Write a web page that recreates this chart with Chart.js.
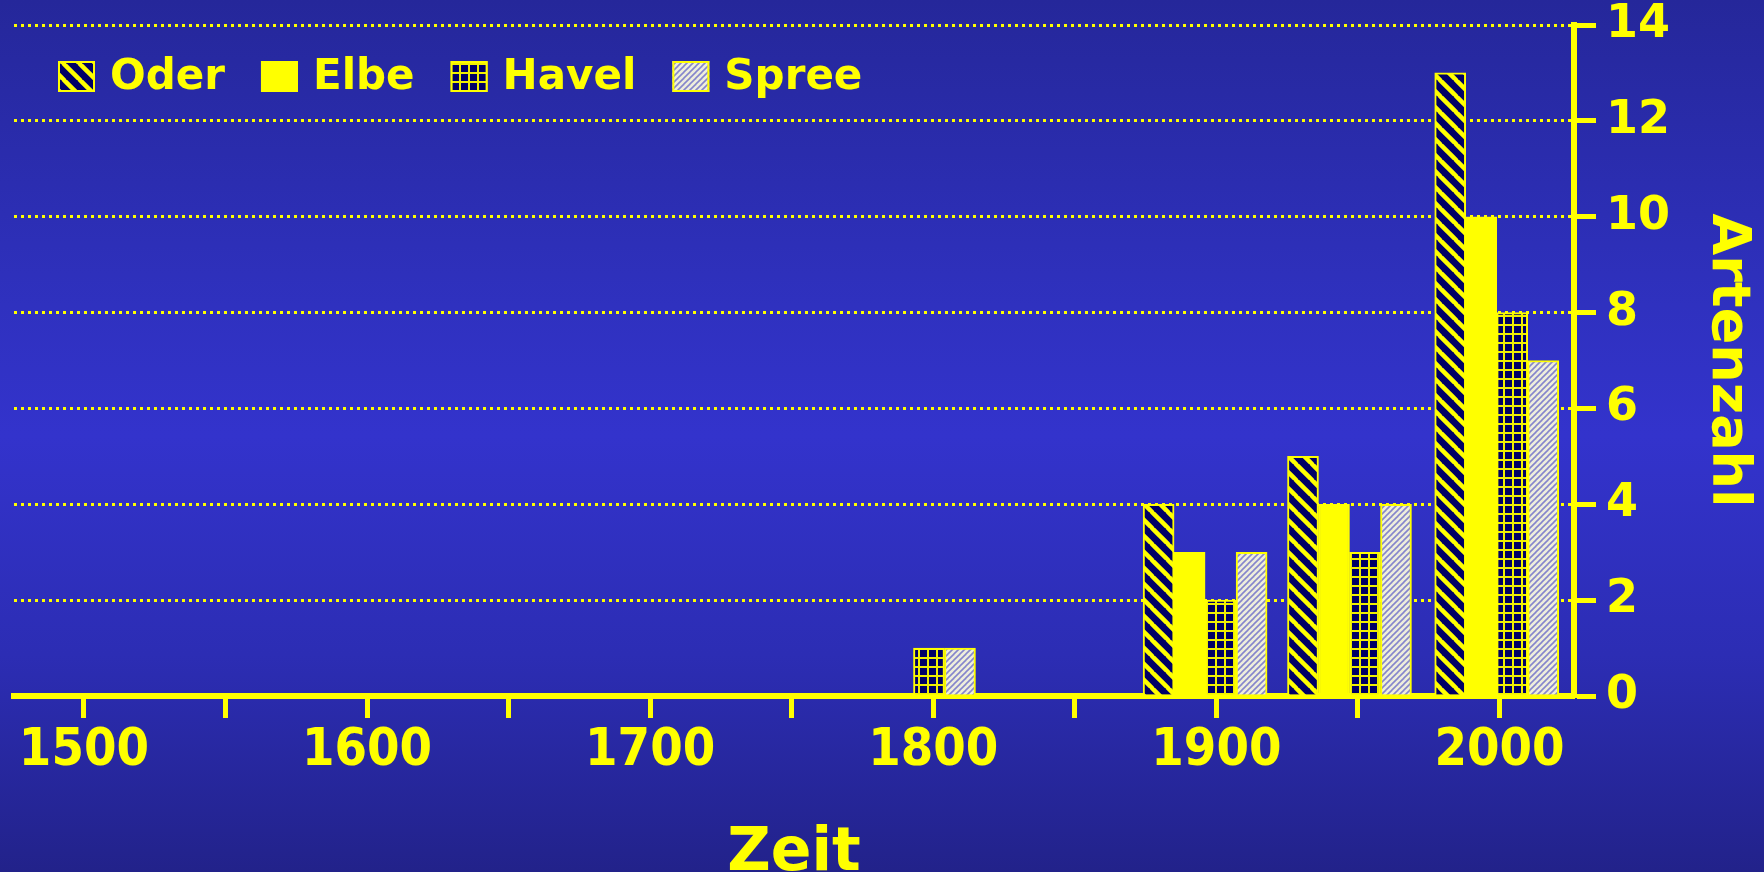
<!DOCTYPE html>
<html>
<head>
<meta charset="utf-8">
<script src="https://cdn.jsdelivr.net/npm/chart.js@4.4.1/dist/chart.umd.min.js"></script>
<style>
  html, body { margin: 0; padding: 0; }
  body {
    width: 1764px; height: 872px; overflow: hidden;
    background: linear-gradient(to bottom, #25279a 0%, #2f31bf 35%, #3333cc 50%, #2c2db4 75%, #22228a 100%);
  }
  #wrap { position: relative; width: 1764px; height: 872px; }
</style>
</head>
<body>
<div id="wrap"><canvas id="chart"></canvas></div>
<script>
// Zeitpunkte der Balkengruppen
const years = [1793, 1896, 1947, 1999];
const oder  = [null, 4, 5, 13];
const elbe  = [null, 3, 4, 10];
const havel = [1, 2, 3, 8];
const spree = [1, 3, 4, 7];

const xTickMarks  = [1500, 1550, 1600, 1650, 1700, 1750, 1800, 1850, 1900, 1950, 2000];
const xTickLabels = [1500, 1600, 1700, 1800, 1900, 2000];
const yTicks      = [0, 2, 4, 6, 8, 10, 12, 14];

const YELLOW = '#ffff00';
const NAVY = '#000066';
const FONT = "'DejaVu Sans', sans-serif";
const FONT_NARROW = "'DejaVu Sans Condensed', 'Liberation Sans Narrow', 'DejaVu Sans', sans-serif";

/**
 * Erzeugt ein Füllmuster aus einer kleinen Kachel
 */
function makePattern(size, bg, draw) {
  const c = document.createElement('canvas');
  c.width = c.height = size;
  const g = c.getContext('2d');
  g.fillStyle = bg;
  g.fillRect(0, 0, size, size);
  draw(g, size);
  return g.createPattern(c, 'repeat');
}

// Oder: dunkel mit gelben Schrägstreifen "\"
const oderPattern = makePattern(16, NAVY, (g, s) => {
  g.strokeStyle = YELLOW;
  g.lineWidth = 4.5;
  for (const k of [-1, 0, 1]) {
    g.beginPath();
    g.moveTo(k * s - 1, -1);
    g.lineTo(k * s + s + 1, s + 1);
    g.stroke();
  }
});

// Havel: dunkles Gitter
const havelPattern = makePattern(9, NAVY, (g, s) => {
  g.fillStyle = '#f0f000';
  g.fillRect(0, 0, s, 2);
  g.fillRect(0, 0, 2, s);
});

// Spree: hell mit feinen blauen Streifen "/"
const spreePattern = makePattern(6, '#eeeedc', (g, s) => {
  g.strokeStyle = '#8585cc';
  g.lineWidth = 1.6;
  for (const k of [-1, 0, 1]) {
    g.beginPath();
    g.moveTo(k * s - 1, s + 1);
    g.lineTo(k * s + s + 1, -1);
    g.stroke();
  }
});

function toPoints(values) {
  return years
    .map((year, i) => ({ x: year, y: values[i] }))
    .filter(p => p.y !== null);
}

// Legende innerhalb der Zeichenfläche
const insideLegend = {
  id: 'insideLegend',
  afterDraw(chart, args, opts) {
    const ctx = chart.ctx;
    let x = opts.x;
    ctx.save();
    ctx.font = opts.font;
    ctx.textBaseline = 'middle';
    chart.data.datasets.forEach(ds => {
      ctx.fillStyle = ds.backgroundColor;
      ctx.fillRect(x, opts.y, opts.boxWidth, opts.boxHeight);
      ctx.lineWidth = 2;
      ctx.strokeStyle = ds.borderColor;
      ctx.strokeRect(x + 1, opts.y + 1, opts.boxWidth - 2, opts.boxHeight - 2);
      x += opts.boxWidth + opts.textGap;
      ctx.fillStyle = opts.color;
      ctx.fillText(ds.label, x, opts.textY);
      x += ctx.measureText(ds.label).width + opts.itemGap;
    });
    ctx.restore();
  }
};

// Achsen ohne automatischen Rand für Beschriftungen
function noPadding(s) {
  s.paddingTop = 0;
  s.paddingBottom = 0;
  s.paddingLeft = 0;
  s.paddingRight = 0;
}

const ctx = document.getElementById('chart').getContext('2d');

new Chart(ctx, {
  type: 'bar',
  data: {
    datasets: [
      { label: 'Oder',  data: toPoints(oder),  backgroundColor: oderPattern,  borderColor: YELLOW, borderWidth: 2 },
      { label: 'Elbe',  data: toPoints(elbe),  backgroundColor: YELLOW,       borderColor: YELLOW, borderWidth: 2 },
      { label: 'Havel', data: toPoints(havel), backgroundColor: havelPattern, borderColor: YELLOW, borderWidth: 2 },
      { label: 'Spree', data: toPoints(spree), backgroundColor: spreePattern, borderColor: YELLOW, borderWidth: 2 }
    ]
  },
  options: {
    responsive: true,
    maintainAspectRatio: false,
    animation: false,
    layout: { padding: { left: 14, top: 25, right: 0, bottom: 0 }, autoPadding: false },
    datasets: { bar: { barThickness: 31 } },
    plugins: {
      legend: { display: false },
      tooltip: { enabled: false },
      insideLegend: {
        x: 58, y: 61, boxWidth: 37, boxHeight: 31, textY: 78,
        textGap: 15, itemGap: 36,
        font: 'bold 42px ' + FONT, color: YELLOW
      }
    },
    scales: {
      x: {
        type: 'linear',
        min: 1475.3,
        max: 2026.3,
        offset: false,
        afterBuildTicks: s => { s.ticks = xTickMarks.map(v => ({ value: v })); },
        afterFit: s => { s.height = 176; noPadding(s); },
        grid: { offset: false, drawOnChartArea: false, color: YELLOW, tickColor: YELLOW, tickLength: 22, tickWidth: 5 },
        border: { color: YELLOW, width: 6 },
        ticks: {
          color: YELLOW,
          autoSkip: false,
          maxRotation: 0,
          padding: 2,
          font: { family: FONT_NARROW, size: 52, weight: 'bold' },
          callback: v => xTickLabels.includes(v) ? String(v) : ''
        },
        title: {
          display: true,
          text: 'Zeit',
          color: YELLOW,
          font: { family: FONT, size: 60, weight: 'bold', lineHeight: 1 },
          padding: { top: 0, bottom: -12 }
        }
      },
      y: {
        position: 'right',
        min: 0,
        max: 14,
        afterBuildTicks: s => { s.ticks = yTicks.map(v => ({ value: v })); },
        afterFit: s => { s.width = 190; noPadding(s); },
        grid: { color: YELLOW, lineWidth: 3, tickColor: YELLOW, tickLength: 22, tickWidth: 5 },
        border: { color: YELLOW, width: 6, dash: [3, 4] },
        ticks: {
          color: YELLOW,
          padding: 10,
          font: { family: FONT, size: 46, weight: 'bold' }
        },
        title: {
          display: true,
          text: 'Artenzahl',
          color: YELLOW,
          font: { family: FONT, size: 54, weight: 'bold', lineHeight: 1 },
          padding: { top: 10, bottom: 0 }
        }
      }
    }
  },
  plugins: [insideLegend]
});
</script>
</body>
</html>
